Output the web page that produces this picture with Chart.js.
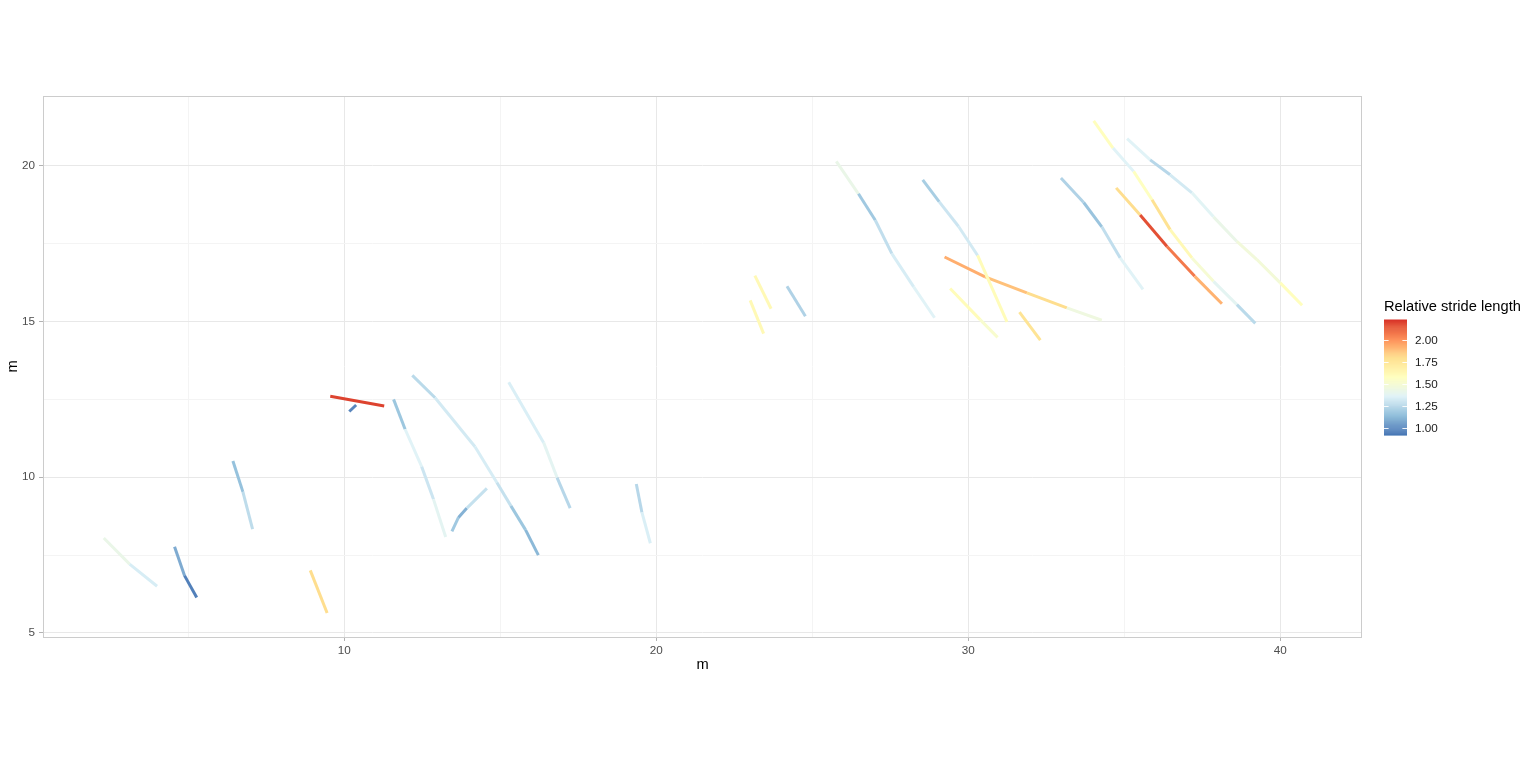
<!DOCTYPE html>
<html>
<head>
<meta charset="utf-8">
<script src="https://cdn.jsdelivr.net/npm/chart.js@4.4.1/dist/chart.umd.min.js"></script>
<style>
  html, body { margin: 0; padding: 0; background: #ffffff; }
  #wrap { width: 1536px; height: 768px; position: relative; }
</style>
</head>
<body>
<div id="wrap"><canvas id="c" width="1536" height="768"></canvas></div>
<script>
// ---- Data ----
const tracksX = [
  [2.29, 3.12, 4.00],
  [4.56, 4.88, 5.27],
  [6.43, 6.75, 7.06],
  [8.91, 9.45],
  [9.55, 11.28],
  [10.16, 10.38],
  [11.58, 11.95, 12.48, 12.86, 13.25],
  [12.18, 12.91, 14.19, 14.89, 15.34, 15.81, 16.22],
  [13.45, 13.66, 13.93, 14.57],
  [15.27, 16.39, 16.82, 17.24],
  [19.36, 19.54, 19.81],
  [23.16, 23.68],
  [23.01, 23.44],
  [24.19, 24.78],
  [25.77, 26.48, 27.02, 27.55, 28.25, 28.92],
  [28.54, 29.07, 29.69, 30.30, 31.24],
  [29.24, 30.54, 31.88, 33.16, 34.28],
  [29.42, 30.38, 30.94],
  [31.64, 32.31],
  [32.97, 33.70, 34.28, 34.87, 35.60],
  [34.74, 35.51, 36.37, 37.26, 38.13],
  [34.02, 34.64, 35.30, 35.89, 36.47, 37.17, 37.86, 38.61, 39.20],
  [35.09, 35.83, 36.47, 37.17, 37.86, 38.61, 39.25, 40.00, 40.70]
];
const tracksY = [
  [8.05, 7.21, 6.50],
  [7.77, 6.84, 6.14],
  [10.52, 9.53, 8.33],
  [7.01, 5.64],
  [12.60, 12.29],
  [12.11, 12.32],
  [12.50, 11.54, 10.34, 9.29, 8.08],
  [13.27, 12.55, 10.98, 9.83, 9.08, 8.31, 7.50],
  [8.26, 8.71, 9.01, 9.64],
  [13.05, 11.11, 9.99, 9.01],
  [9.78, 8.87, 7.88],
  [16.47, 15.41],
  [15.68, 14.61],
  [16.13, 15.17],
  [20.14, 19.10, 18.25, 17.18, 16.11, 15.12],
  [19.55, 18.84, 18.05, 17.12, 14.99],
  [17.07, 16.43, 15.92, 15.44, 15.04],
  [16.06, 15.06, 14.49],
  [15.30, 14.40],
  [19.61, 18.82, 18.04, 17.04, 16.03],
  [19.29, 18.42, 17.41, 16.45, 15.57],
  [21.44, 20.57, 19.82, 18.91, 17.95, 17.04, 16.29, 15.54, 14.94],
  [20.87, 20.19, 19.71, 19.13, 18.36, 17.57, 16.99, 16.24, 15.52]
];
// relative stride length of each segment (segment i goes from point i to point i+1)
const tracksV = [
  [1.42, 1.33],
  [1.08, 0.95],
  [1.15, 1.26],
  [1.80],
  [2.20],
  [0.97],
  [1.17, 1.36, 1.30, 1.38],
  [1.25, 1.32, 1.33, 1.28, 1.17, 1.12],
  [1.18, 1.10, 1.28],
  [1.34, 1.38, 1.24],
  [1.24, 1.34],
  [1.62],
  [1.62],
  [1.22],
  [1.42, 1.18, 1.27, 1.33, 1.36],
  [1.20, 1.30, 1.32, 1.60],
  [1.93, 1.88, 1.80, 1.45],
  [1.60, 1.52],
  [1.77],
  [1.22, 1.16, 1.27, 1.36],
  [1.80, 2.17, 2.07, 1.92],
  [1.58, 1.36, 1.57, 1.78, 1.62, 1.50, 1.38, 1.25],
  [1.36, 1.24, 1.32, 1.37, 1.42, 1.47, 1.48, 1.58]
];
const xMajorTicks = [10, 20, 30, 40];
const xGridTicks = [5, 10, 15, 20, 25, 30, 35, 40];
const yMajorTicks = [5, 10, 15, 20];
const yGridTicks = [5, 7.5, 10, 12.5, 15, 17.5, 20];
const legendTicks = [1.00, 1.25, 1.50, 1.75, 2.00];
const colorLimits = [0.917, 2.235];
const paletteColors = ['#4575b4', '#91bfdb', '#e0f3f8', '#ffffbf', '#fee090', '#fc8d59', '#d73027'];
const legendTitle = 'Relative stride length';
const axisTitle = 'm';

// ---- Colour scale (Lab interpolation like ggplot's distiller) ----
function hexToRgb(h) { return [parseInt(h.slice(1,3),16), parseInt(h.slice(3,5),16), parseInt(h.slice(5,7),16)]; }
function srgbToLin(c) { c /= 255; return c <= 0.04045 ? c / 12.92 : Math.pow((c + 0.055) / 1.055, 2.4); }
function linToSrgb(c) { const v = c <= 0.0031308 ? 12.92 * c : 1.055 * Math.pow(c, 1/2.4) - 0.055; return Math.max(0, Math.min(255, Math.round(v * 255))); }
const WX = 0.95047, WY = 1.0, WZ = 1.08883;
function rgbToLab(rgb) {
  const r = srgbToLin(rgb[0]), g = srgbToLin(rgb[1]), b = srgbToLin(rgb[2]);
  const X = (0.4124*r + 0.3576*g + 0.1805*b) / WX;
  const Y = (0.2126*r + 0.7152*g + 0.0722*b) / WY;
  const Z = (0.0193*r + 0.1192*g + 0.9505*b) / WZ;
  const f = t => t > 0.008856 ? Math.cbrt(t) : 7.787 * t + 16/116;
  const fx = f(X), fy = f(Y), fz = f(Z);
  return [116*fy - 16, 500*(fx - fy), 200*(fy - fz)];
}
function labToRgb(lab) {
  const fy = (lab[0] + 16) / 116, fx = fy + lab[1] / 500, fz = fy - lab[2] / 200;
  const fi = t => t*t*t > 0.008856 ? t*t*t : (t - 16/116) / 7.787;
  const X = fi(fx) * WX, Y = fi(fy) * WY, Z = fi(fz) * WZ;
  const r = 3.2406*X - 1.5372*Y - 0.4986*Z;
  const g = -0.9689*X + 1.8758*Y + 0.0415*Z;
  const b = 0.0557*X - 0.2040*Y + 1.0570*Z;
  return [linToSrgb(r), linToSrgb(g), linToSrgb(b)];
}
const paletteLab = paletteColors.map(h => rgbToLab(hexToRgb(h)));
function colorFor(v) {
  let t = (v - colorLimits[0]) / (colorLimits[1] - colorLimits[0]);
  t = Math.max(0, Math.min(1, t));
  const n = paletteLab.length - 1;
  const pos = t * n;
  const i = Math.min(n - 1, Math.floor(pos));
  const f = pos - i;
  const a = paletteLab[i], b = paletteLab[i + 1];
  const lab = [a[0] + (b[0]-a[0])*f, a[1] + (b[1]-a[1])*f, a[2] + (b[2]-a[2])*f];
  const rgb = labToRgb(lab);
  return 'rgb(' + rgb[0] + ',' + rgb[1] + ',' + rgb[2] + ')';
}

// ---- Datasets built from the arrays ----
const datasets = tracksX.map((xs, k) => {
  const vals = tracksV[k];
  return {
    data: xs.map((x, i) => ({ x: x, y: tracksY[k][i] })),
    showLine: true,
    borderWidth: 3,
    pointRadius: 0,
    pointHoverRadius: 0,
    borderCapStyle: 'butt',
    borderJoinStyle: 'round',
    borderColor: colorFor(vals[0]),
    segment: { borderColor: ctx => colorFor(vals[ctx.p0DataIndex]) }
  };
});

const FONT = '"Liberation Sans", Arial, Helvetica, sans-serif';

const frameAndLegend = {
  id: 'frameAndLegend',
  afterDraw(chart) {
    const ctx = chart.ctx;
    const a = chart.chartArea;
    ctx.save();
    // panel border
    ctx.strokeStyle = '#cccccc';
    ctx.lineWidth = 1;
    ctx.strokeRect(Math.round(a.left) + 0.5, Math.round(a.top) + 0.5, Math.round(a.right - a.left) - 1, Math.round(a.bottom - a.top));
    // legend
    const barL = 1384, barW = 23, barT = 319.5, barB = 435;
    ctx.fillStyle = '#000000';
    ctx.font = '14.67px ' + FONT;
    ctx.textAlign = 'left';
    ctx.textBaseline = 'middle';
    ctx.fillText(legendTitle, 1384, 306.5);
    const steps = 120;
    const h = (barB - barT) / steps;
    for (let s = 0; s < steps; s++) {
      const v = colorLimits[1] - (s + 0.5) / steps * (colorLimits[1] - colorLimits[0]);
      ctx.fillStyle = colorFor(v);
      ctx.fillRect(barL, barT + s * h, barW, h + 0.6);
    }
    const yOf = v => barB - (v - colorLimits[0]) / (colorLimits[1] - colorLimits[0]) * (barB - barT);
    ctx.strokeStyle = 'rgba(255,255,255,0.9)';
    ctx.lineWidth = 1;
    ctx.font = '11.7px ' + FONT;
    legendTicks.forEach(v => {
      const y = Math.round(yOf(v)) + 0.5;
      ctx.beginPath();
      ctx.moveTo(barL, y); ctx.lineTo(barL + 4.6, y);
      ctx.moveTo(barL + barW - 4.6, y); ctx.lineTo(barL + barW, y);
      ctx.stroke();
      ctx.fillStyle = '#1a1a1a';
      ctx.fillText(v.toFixed(2), 1415, y);
    });
    ctx.restore();
  }
};

const xIsMajor = v => xMajorTicks.includes(v);
const yIsMajor = v => yMajorTicks.includes(v);

new Chart(document.getElementById('c'), {
  type: 'scatter',
  data: { datasets: datasets },
  options: {
    responsive: false,
    animation: false,
    events: [],
    layout: { padding: { top: 96, right: 174, bottom: 94, left: 0 } },
    plugins: { legend: { display: false }, tooltip: { enabled: false } },
    scales: {
      x: {
        type: 'linear',
        min: 0.343,
        max: 42.62,
        afterBuildTicks: s => { s.ticks = xGridTicks.map(v => ({ value: v })); },
        afterFit: s => { s.height = 37; },
        border: { display: false },
        grid: {
          color: c => xIsMajor(c.tick.value) ? '#e8e8e8' : '#f4f4f4',
          lineWidth: 1,
          tickLength: 4,
          tickColor: c => xIsMajor(c.tick.value) ? '#b3b3b3' : 'rgba(0,0,0,0)'
        },
        ticks: {
          padding: 3,
          color: '#4d4d4d',
          font: { family: FONT, size: 11.7 },
          maxRotation: 0,
          autoSkip: false,
          callback: v => xIsMajor(v) ? String(v) : ''
        },
        title: { display: true, text: axisTitle, color: '#000000', padding: 0, font: { family: FONT, size: 14.67 } }
      },
      y: {
        type: 'linear',
        min: 4.87,
        max: 22.24,
        afterBuildTicks: s => { s.ticks = yGridTicks.map(v => ({ value: v })); },
        afterFit: s => { s.width = 43; },
        border: { display: false },
        grid: {
          color: c => yIsMajor(c.tick.value) ? '#e8e8e8' : '#f4f4f4',
          lineWidth: 1,
          tickLength: 4,
          tickColor: c => yIsMajor(c.tick.value) ? '#b3b3b3' : 'rgba(0,0,0,0)'
        },
        ticks: {
          padding: 4,
          color: '#4d4d4d',
          font: { family: FONT, size: 11.7 },
          autoSkip: false,
          callback: v => yIsMajor(v) ? String(v) : ''
        },
        title: { display: true, text: axisTitle, color: '#000000', padding: 4, font: { family: FONT, size: 14.67 } }
      }
    }
  },
  plugins: [frameAndLegend]
});
</script>
</body>
</html>
